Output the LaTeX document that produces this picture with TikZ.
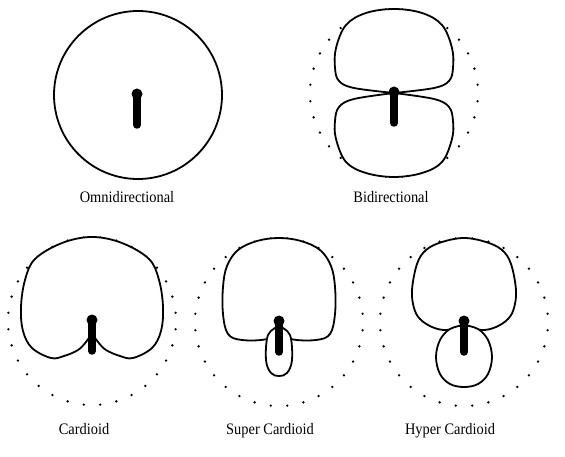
\documentclass[tikz,border=0pt]{standalone}
\usepackage{fontspec}
\setmainfont{Liberation Serif}[FakeStretch=0.9]

\tikzset{
    lobe/.style={draw=black, fill=white, line width=1.8pt, line join=round},
    label/.style={anchor=base, inner sep=0pt, font=\fontsize{16}{18}\selectfont},
}
% microphone body at the origin of the current scope
\newcommand{\micstick}{%
    \fill (0,-1) circle (5.5pt);
    \draw[line width=7.5pt, line cap=round] (0,0) -- (0,30);}
% dotted reference ring
\newcommand{\dotring}[1]{%
    \foreach \a in {0,...,31}
        \fill ({5.625+11.25*\a}:#1) circle (1.3pt);}

\begin{document}
\begin{tikzpicture}[x=1pt, y=-1pt]
    \useasboundingbox (0,0) rectangle (565,457);

        % omnidirectional
        \draw[lobe] (138,95) circle (84pt);
        \begin{scope}[shift={(137,95)}]
            \micstick
        \end{scope}
        \node[label] (omni) at (127,203) {Omnidirectional};

        % bidirectional
        \begin{scope}[shift={(394,93)}]
            \dotring{84}
            \draw[lobe] plot[smooth, tension=0.6] coordinates {(0,0) (40,-5) (55,-12) (59,-25) (58,-45) (48,-68) (28,-80)
                (0,-84) (-28,-80) (-48,-68) (-58,-45) (-59,-25) (-55,-12) (-40,-5) (0,0)} -- cycle;
            \draw[lobe] plot[smooth, tension=0.6] coordinates {(0,0) (40,6) (55,14) (59,28) (58,46) (48,69) (28,80)
                (0,84) (-28,80) (-48,69) (-58,46) (-59,28) (-55,14) (-40,6) (0,0)} -- cycle;
            \micstick
        \end{scope}
        \node[label] (bidir) at (391,203) {Bidirectional};

        % cardioid
        \begin{scope}[shift={(92,321)}]
            \dotring{84}
            \draw[lobe] plot[smooth, tension=0.6] coordinates {(0,12) (6,21) (14,29) (28,35) (41,37) (60,27) (69,10)
                (71,-14) (67,-41) (57,-62) (30,-78) (0,-84) (-30,-78) (-57,-62) (-67,-41) (-71,-14) (-69,10)
                (-60,27) (-41,37) (-28,35) (-14,29) (-6,21) (0,12)} -- cycle;
            \micstick
        \end{scope}
        \node[label] (cardioid) at (84,434) {Cardioid};

        % super cardioid
        \begin{scope}[shift={(279,322)}]
            \dotring{84}
            \draw[lobe] plot[smooth, tension=0.6] coordinates {(0,8) (12,17) (37,18) (51,12) (56,-8) (56,-35)
                (52,-56) (41,-72) (22,-81) (0,-84) (-22,-81) (-41,-72) (-52,-56) (-56,-35) (-56,-8) (-51,12)
                (-37,18) (-12,17) (0,8)} -- cycle;
            \draw[lobe] plot[smooth, tension=0.6] coordinates {(0,4) (11,13) (13,38) (8,51) (0,54) (-8,51)
                (-13,38) (-11,13) (0,4)} -- cycle;
            \micstick
        \end{scope}
        \node[label] (super) at (270,434) {Super Cardioid};

        % hyper cardioid
        \begin{scope}[shift={(464,322)}]
            \dotring{84}
            \draw[lobe] plot[smooth, tension=0.6] coordinates {(0,4) (18,8) (32,5) (44,-3) (50,-14) (52,-32)
                (47,-58) (38,-72) (22,-80) (0,-84) (-22,-80) (-38,-72) (-47,-58) (-52,-32) (-50,-14) (-44,-3)
                (-32,5) (-18,8) (0,4)} -- cycle;
            \draw[lobe] plot[smooth, tension=0.6] coordinates {(0,3) (14,7) (24,18) (28,35) (24,52) (14,62)
                (0,65) (-14,62) (-24,52) (-28,35) (-24,18) (-14,7) (0,3)} -- cycle;
            \micstick
        \end{scope}
        \node[label] (hyper) at (450,434) {Hyper Cardioid};

\end{tikzpicture}
\end{document}
